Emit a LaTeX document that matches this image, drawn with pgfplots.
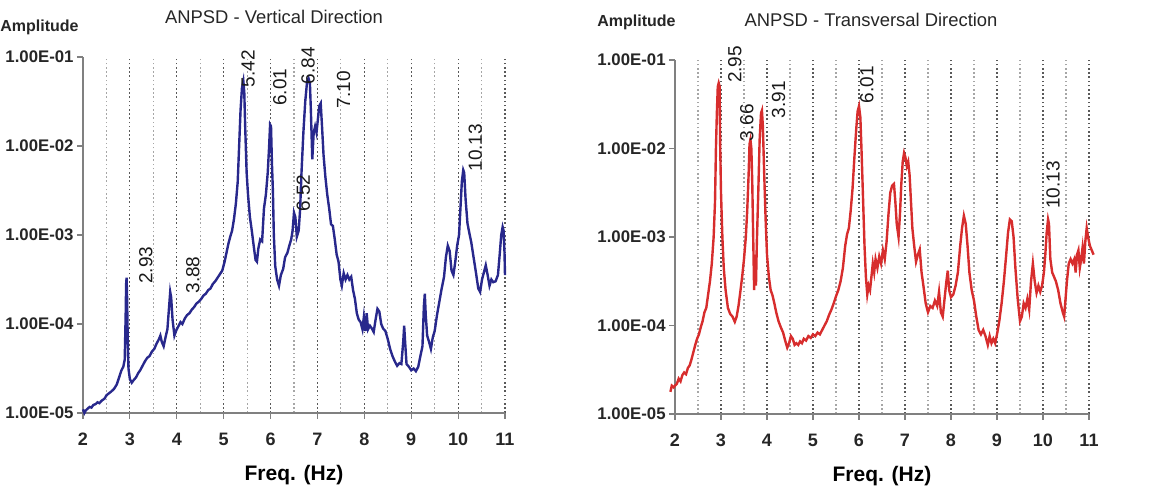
\documentclass[border=0pt]{standalone}
\usepackage{pgfplots}
\pgfplotsset{compat=1.18}
\usepackage{fontspec}
\setmainfont{Liberation Sans}
\definecolor{navy}{RGB}{40,40,140}
\definecolor{myred}{RGB}{215,45,45}
\tikzset{pk/.style={rotate=90, font=\fontsize{9.5}{11}\selectfont, text=black!90, inner sep=0pt}}
\begin{document}
\begin{tikzpicture}
\path[use as bounding box] (0,0) rectangle (584pt,-245pt);
\node[font=\fontsize{9.2}{11}\selectfont, text=black!85] at (137pt,-8.5pt) {ANPSD - Vertical Direction};
\node[font=\fontsize{9.2}{11}\selectfont, text=black!85] at (435.5pt,-9.75pt) {ANPSD - Transversal Direction};
\node[anchor=west, inner sep=0pt, font=\bfseries\fontsize{8}{10}\selectfont, text=black!85] at (0pt,-13.5pt) {Amplitude};
\node[anchor=west, inner sep=0pt, font=\bfseries\fontsize{8}{10}\selectfont, text=black!85] at (298.5pt,-11pt) {Amplitude};

\begin{axis}[at={(41.5pt,-206.5pt)}, anchor=south west, width=211pt, height=178pt,
    scale only axis,
    ymode=log, xmin=2, xmax=11, ymin=1e-5, ymax=1e-1,
    axis x line*=bottom, axis y line*=left,
    axis line style={-, draw=black!50, line width=0.9pt},
    xtick={2,...,11}, xticklabels={2,3,4,5,6,7,8,9,10,11},
    minor xtick={2.5,3.5,...,10.5},
    ytick={1e-5,1e-4,1e-3,1e-2,1e-1},
    yticklabels={1.00E-05,1.00E-04,1.00E-03,1.00E-02,1.00E-01},
    yminorticks=false,
    tick align=outside, major tick length=3pt, minor tick length=0pt,
    tick style={black!50, line width=0.6pt},
    xmajorgrids, xminorgrids,
    major grid style={black!65, line width=0.6pt, dash pattern=on 0.8pt off 1.3pt},
    minor grid style={black!35, line width=0.6pt, dash pattern=on 0.8pt off 1.3pt},
    xticklabel style={font=\bfseries\fontsize{9}{11}\selectfont, text=black!85, yshift=-3.5pt},
    yticklabel style={font=\bfseries\fontsize{8.4}{10}\selectfont, text=black!85, inner xsep=1.5pt},
    xlabel={Freq. (Hz)},
    xlabel style={at={(axis description cs:0.5,0)}, anchor=center, yshift=-31pt, font=\bfseries\fontsize{10.5}{12}\selectfont},
    clip=false]
\addplot[navy, line width=1.2pt] table {
2.00 1.10e-5
2.03 1.00e-5
2.06 1.07e-5
2.10 1.12e-5
2.14 1.17e-5
2.18 1.15e-5
2.22 1.23e-5
2.27 1.26e-5
2.31 1.32e-5
2.35 1.29e-5
2.40 1.38e-5
2.46 1.45e-5
2.50 1.58e-5
2.55 1.66e-5
2.60 1.74e-5
2.66 1.86e-5
2.72 2.09e-5
2.77 2.51e-5
2.82 3.02e-5
2.86 3.31e-5
2.89 3.98e-5
2.91 1.26e-4
2.92 2.82e-4
2.93 3.31e-4
2.94 2.00e-4
2.955 6.31e-5
2.97 3.16e-5
3.00 2.40e-5
3.04 2.19e-5
3.08 2.34e-5
3.13 2.51e-5
3.18 2.82e-5
3.22 3.02e-5
3.27 3.39e-5
3.32 3.80e-5
3.37 4.17e-5
3.42 4.37e-5
3.47 4.90e-5
3.52 5.25e-5
3.57 6.03e-5
3.62 6.76e-5
3.65 7.41e-5
3.68 6.31e-5
3.72 5.62e-5
3.76 7.08e-5
3.80 8.71e-5
3.83 1.41e-4
3.86 2.29e-4
3.88 2.00e-4
3.91 1.12e-4
3.95 7.41e-5
3.99 8.51e-5
4.04 9.55e-5
4.08 1.05e-4
4.12 1.00e-4
4.17 1.15e-4
4.22 1.26e-4
4.27 1.32e-4
4.32 1.45e-4
4.37 1.55e-4
4.42 1.70e-4
4.47 1.78e-4
4.52 1.91e-4
4.57 2.09e-4
4.62 2.19e-4
4.67 2.40e-4
4.72 2.51e-4
4.77 2.82e-4
4.82 3.02e-4
4.87 3.31e-4
4.92 3.63e-4
4.97 3.98e-4
5.02 5.01e-4
5.06 6.31e-4
5.10 7.94e-4
5.14 9.55e-4
5.18 1.12e-3
5.22 1.51e-3
5.26 2.24e-3
5.30 3.98e-3
5.33 1.00e-2
5.36 2.51e-2
5.39 4.47e-2
5.42 5.37e-2
5.44 3.98e-2
5.46 1.58e-2
5.49 5.01e-3
5.52 2.82e-3
5.56 1.58e-3
5.60 1.12e-3
5.64 7.59e-4
5.68 5.25e-4
5.71 5.01e-4
5.74 7.08e-4
5.78 8.91e-4
5.82 8.51e-4
5.86 2.00e-3
5.90 2.82e-3
5.94 5.01e-3
5.97 1.00e-2
5.99 1.74e-2
6.01 1.66e-2
6.03 6.31e-3
6.05 3.16e-3
6.07 1.00e-3
6.10 4.47e-4
6.14 3.16e-4
6.18 2.69e-4
6.22 3.55e-4
6.27 4.17e-4
6.31 5.62e-4
6.36 6.31e-4
6.40 7.59e-4
6.44 8.91e-4
6.47 1.12e-3
6.50 1.78e-3
6.53 1.58e-3
6.56 9.55e-4
6.60 1.12e-3
6.63 1.91e-3
6.66 5.01e-3
6.70 1.41e-2
6.74 3.16e-2
6.78 5.37e-2
6.81 5.75e-2
6.84 5.01e-2
6.86 2.51e-2
6.89 7.08e-3
6.92 1.41e-2
6.95 1.66e-2
6.98 1.41e-2
7.01 2.00e-2
7.04 2.82e-2
7.07 3.02e-2
7.10 1.58e-2
7.13 7.94e-3
7.17 4.47e-3
7.21 2.82e-3
7.25 2.00e-3
7.29 1.32e-3
7.33 1.26e-3
7.37 8.91e-4
7.41 6.03e-4
7.45 5.01e-4
7.49 3.16e-4
7.52 2.69e-4
7.56 3.72e-4
7.60 3.16e-4
7.64 3.55e-4
7.68 3.16e-4
7.72 3.39e-4
7.76 2.40e-4
7.80 1.91e-4
7.84 1.32e-4
7.88 1.12e-4
7.92 1.05e-4
7.96 8.71e-5
7.99 1.20e-4
8.02 8.32e-5
8.05 1.32e-4
8.08 8.71e-5
8.12 9.55e-5
8.16 8.91e-5
8.20 8.13e-5
8.24 1.12e-4
8.28 1.48e-4
8.32 1.38e-4
8.36 1.00e-4
8.40 8.91e-5
8.45 8.32e-5
8.50 6.76e-5
8.55 5.25e-5
8.60 4.37e-5
8.65 3.80e-5
8.70 3.39e-5
8.75 3.63e-5
8.79 3.55e-5
8.83 6.31e-5
8.85 9.55e-5
8.87 6.31e-5
8.90 3.55e-5
8.95 3.31e-5
9.00 3.02e-5
9.05 3.16e-5
9.10 2.95e-5
9.15 3.31e-5
9.20 4.47e-5
9.24 5.62e-5
9.27 1.58e-4
9.29 2.19e-4
9.31 1.26e-4
9.34 7.41e-5
9.38 6.31e-5
9.42 5.25e-5
9.46 7.08e-5
9.50 8.32e-5
9.55 1.26e-4
9.60 1.78e-4
9.65 2.51e-4
9.70 3.39e-4
9.74 5.62e-4
9.78 7.59e-4
9.82 6.61e-4
9.86 3.98e-4
9.90 3.55e-4
9.94 5.01e-4
9.98 7.59e-4
10.02 1.00e-3
10.05 2.00e-3
10.08 3.98e-3
10.11 5.37e-3
10.13 5.01e-3
10.16 2.51e-3
10.20 1.35e-3
10.24 1.05e-3
10.28 8.32e-4
10.33 5.62e-4
10.38 3.80e-4
10.43 2.51e-4
10.47 2.29e-4
10.51 3.16e-4
10.55 3.80e-4
10.59 4.57e-4
10.63 3.55e-4
10.67 2.69e-4
10.71 3.16e-4
10.75 2.95e-4
10.80 3.02e-4
10.85 3.55e-4
10.89 6.31e-4
10.92 1.00e-3
10.95 1.23e-3
10.97 1.12e-3
10.99 6.31e-4
11.00 3.55e-4
};
\node[pk] at (axis cs:5.52,0.0741) {5.42};
\node[pk] at (axis cs:6.20,0.0457) {6.01};
\node[pk] at (axis cs:6.80,0.0794) {6.84};
\node[pk] at (axis cs:7.56,0.0427) {7.10};
\node[pk] at (axis cs:10.37,0.00955) {10.13};
\node[pk] at (axis cs:6.70,0.00295) {6.52};
\node[pk] at (axis cs:3.34,4.57e-4) {2.93};
\node[pk] at (axis cs:4.34,3.55e-4) {3.88};
\end{axis}

\begin{axis}[at={(337.5pt,-207pt)}, anchor=south west, width=207pt, height=177pt,
    scale only axis,
    ymode=log, xmin=2, xmax=11, ymin=1e-5, ymax=1e-1,
    axis x line*=bottom, axis y line*=left,
    axis line style={-, draw=black!50, line width=0.9pt},
    xtick={2,...,11}, xticklabels={2,3,4,5,6,7,8,9,10,11},
    minor xtick={2.5,3.5,...,10.5},
    ytick={1e-5,1e-4,1e-3,1e-2,1e-1},
    yticklabels={1.00E-05,1.00E-04,1.00E-03,1.00E-02,1.00E-01},
    yminorticks=false,
    tick align=outside, major tick length=3pt, minor tick length=0pt,
    tick style={black!50, line width=0.6pt},
    xmajorgrids, xminorgrids,
    major grid style={black!65, line width=0.6pt, dash pattern=on 0.8pt off 1.3pt},
    minor grid style={black!35, line width=0.6pt, dash pattern=on 0.8pt off 1.3pt},
    xticklabel style={font=\bfseries\fontsize{9}{11}\selectfont, text=black!85, yshift=-3.5pt},
    yticklabel style={font=\bfseries\fontsize{8.4}{10}\selectfont, text=black!85, inner xsep=1.5pt},
    xlabel={Freq. (Hz)},
    xlabel style={at={(axis description cs:0.5,0)}, anchor=center, yshift=-31pt, font=\bfseries\fontsize{10.5}{12}\selectfont},
    clip=false]
\addplot[myred, line width=1.2pt] table {
1.90 1.78e-5
1.93 2.09e-5
1.97 2.00e-5
2.00 2.09e-5
2.04 2.19e-5
2.08 2.51e-5
2.12 2.34e-5
2.16 2.75e-5
2.20 2.95e-5
2.24 2.82e-5
2.28 3.31e-5
2.32 3.55e-5
2.36 4.17e-5
2.40 5.01e-5
2.44 6.03e-5
2.48 7.08e-5
2.52 7.94e-5
2.56 9.55e-5
2.60 1.12e-4
2.64 1.41e-4
2.68 1.58e-4
2.72 2.24e-4
2.76 3.16e-4
2.80 5.01e-4
2.84 1.00e-3
2.87 2.51e-3
2.89 1.00e-2
2.91 2.51e-2
2.93 5.01e-2
2.95 5.50e-2
2.97 5.01e-2
2.98 1.26e-2
3.00 3.16e-3
3.03 1.00e-3
3.06 4.47e-4
3.10 2.51e-4
3.15 1.58e-4
3.20 1.35e-4
3.25 1.26e-4
3.30 1.10e-4
3.34 1.26e-4
3.38 1.66e-4
3.42 2.40e-4
3.46 3.55e-4
3.50 5.62e-4
3.54 1.00e-3
3.57 2.00e-3
3.60 5.01e-3
3.62 1.12e-2
3.64 1.26e-2
3.66 1.00e-2
3.68 3.98e-3
3.70 1.00e-3
3.72 2.51e-4
3.74 6.31e-4
3.76 2.82e-4
3.78 8.91e-4
3.81 3.16e-3
3.84 1.26e-2
3.87 2.51e-2
3.89 2.69e-2
3.91 1.78e-2
3.94 5.01e-3
3.97 1.58e-3
4.00 6.31e-4
4.04 3.55e-4
4.08 2.51e-4
4.12 2.19e-4
4.16 1.78e-4
4.20 1.41e-4
4.25 1.12e-4
4.30 9.55e-5
4.35 8.32e-5
4.40 6.61e-5
4.44 5.62e-5
4.48 6.31e-5
4.52 7.59e-5
4.56 7.08e-5
4.60 6.03e-5
4.64 6.31e-5
4.68 6.03e-5
4.72 6.61e-5
4.76 6.31e-5
4.80 7.08e-5
4.85 6.76e-5
4.90 7.59e-5
4.95 7.24e-5
5.00 7.94e-5
5.05 7.59e-5
5.10 8.32e-5
5.15 7.94e-5
5.20 8.91e-5
5.25 1.00e-4
5.30 1.12e-4
5.35 1.32e-4
5.40 1.51e-4
5.45 1.78e-4
5.50 2.14e-4
5.55 2.51e-4
5.60 3.16e-4
5.65 4.47e-4
5.70 7.94e-4
5.74 1.07e-3
5.78 1.26e-3
5.82 2.00e-3
5.86 3.55e-3
5.90 7.94e-3
5.94 1.66e-2
5.97 2.63e-2
6.00 3.02e-2
6.03 2.24e-2
6.06 7.94e-3
6.09 2.51e-3
6.12 7.94e-4
6.15 3.55e-4
6.18 2.24e-4
6.21 2.82e-4
6.24 2.51e-4
6.27 3.55e-4
6.30 5.01e-4
6.33 3.98e-4
6.36 5.62e-4
6.40 4.47e-4
6.44 6.03e-4
6.48 5.01e-4
6.52 7.08e-4
6.56 5.62e-4
6.60 8.91e-4
6.64 1.78e-3
6.68 3.16e-3
6.72 3.80e-3
6.76 3.98e-3
6.79 2.51e-3
6.82 1.41e-3
6.86 1.00e-3
6.89 1.78e-3
6.92 3.98e-3
6.95 7.08e-3
6.98 8.91e-3
7.01 7.94e-3
7.04 6.31e-3
7.07 7.08e-3
7.10 5.01e-3
7.13 2.51e-3
7.16 1.26e-3
7.20 7.94e-4
7.24 5.25e-4
7.28 6.31e-4
7.32 7.24e-4
7.36 3.98e-4
7.40 2.82e-4
7.45 1.78e-4
7.50 1.41e-4
7.55 1.66e-4
7.60 1.58e-4
7.65 1.91e-4
7.70 1.66e-4
7.74 2.40e-4
7.78 1.41e-4
7.82 1.26e-4
7.86 2.00e-4
7.90 3.16e-4
7.93 4.17e-4
7.96 2.51e-4
8.00 2.09e-4
8.05 2.24e-4
8.10 2.82e-4
8.15 3.98e-4
8.20 7.94e-4
8.24 1.26e-3
8.28 1.74e-3
8.32 1.41e-3
8.36 7.94e-4
8.40 3.98e-4
8.45 2.51e-4
8.50 1.91e-4
8.55 1.26e-4
8.60 8.91e-5
8.65 7.94e-5
8.70 8.91e-5
8.75 7.59e-5
8.80 6.03e-5
8.84 7.59e-5
8.88 6.31e-5
8.92 7.08e-5
8.96 6.31e-5
9.00 7.94e-5
9.05 1.12e-4
9.10 1.78e-4
9.15 3.16e-4
9.20 6.31e-4
9.24 1.12e-3
9.28 1.58e-3
9.32 1.51e-3
9.36 1.00e-3
9.40 4.47e-4
9.45 2.00e-4
9.50 1.12e-4
9.54 1.26e-4
9.58 1.78e-4
9.62 1.58e-4
9.66 2.00e-4
9.70 1.51e-4
9.74 3.16e-4
9.78 5.01e-4
9.82 3.16e-4
9.86 2.34e-4
9.90 2.82e-4
9.94 2.40e-4
9.98 2.82e-4
10.02 3.98e-4
10.05 6.31e-4
10.08 1.12e-3
10.11 1.58e-3
10.13 1.41e-3
10.16 5.62e-4
10.20 3.98e-4
10.24 3.55e-4
10.28 3.16e-4
10.33 2.51e-4
10.38 1.78e-4
10.43 1.41e-4
10.46 1.26e-4
10.49 2.00e-4
10.52 3.16e-4
10.56 5.01e-4
10.60 5.62e-4
10.64 5.01e-4
10.68 5.62e-4
10.71 3.98e-4
10.74 6.31e-4
10.77 7.08e-4
10.80 4.47e-4
10.83 5.62e-4
10.86 7.59e-4
10.89 5.01e-4
10.92 8.91e-4
10.95 1.26e-3
10.98 1.00e-3
11.02 7.94e-4
11.06 7.08e-4
11.10 6.31e-4
};
\node[pk] at (axis cs:3.30,0.0891) {2.95};
\node[pk] at (axis cs:3.56,0.0195) {3.66};
\node[pk] at (axis cs:4.25,0.0355) {3.91};
\node[pk] at (axis cs:6.17,0.0525) {6.01};
\node[pk] at (axis cs:10.22,0.00389) {10.13};
\end{axis}
\end{tikzpicture}
\end{document}
